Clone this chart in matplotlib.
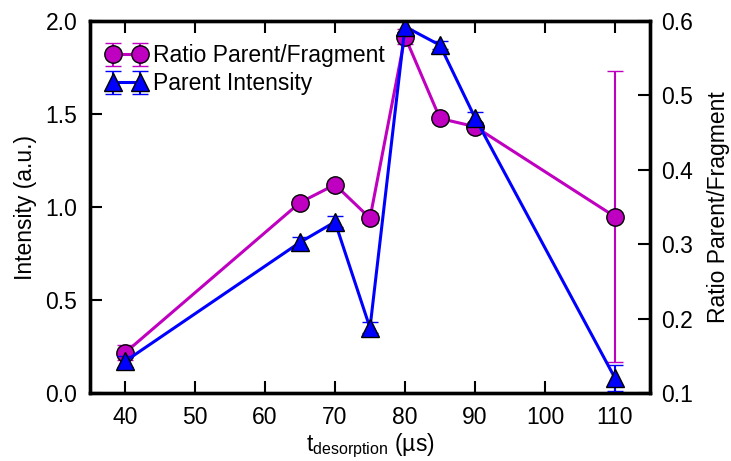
import matplotlib
matplotlib.use("Agg")
import matplotlib.pyplot as plt

plt.rcParams['font.family'] = ['Liberation Sans', 'DejaVu Sans']
plt.rcParams['mathtext.fontset'] = 'custom'
plt.rcParams['mathtext.rm'] = 'Liberation Sans'

t_desorption = [40, 65, 70, 75, 80, 85, 90, 110]
intensity = [0.17, 0.81, 0.92, 0.35, 1.97, 1.87, 1.48, 0.08]
intensity_err = [0.03, 0.03, 0.03, 0.03, 0.03, 0.02, 0.03, 0.07]
ratio = [0.154, 0.356, 0.380, 0.335, 0.579, 0.469, 0.458, 0.337]
ratio_err = [0.010, 0.005, 0.005, 0.007, 0.010, 0.005, 0.005, 0.196]

xticks = [40, 50, 60, 70, 80, 90, 100, 110]
yticks_left = [0.0, 0.5, 1.0, 1.5, 2.0]
yticks_right = [0.1, 0.2, 0.3, 0.4, 0.5, 0.6]

magenta = '#C000C0'
blue = '#0000FF'
FS = 16.5

fig = plt.figure(figsize=(7.31, 4.61), dpi=100)
ax = fig.add_axes([90/731, 1-393/461, (650-90)/731, (393-21)/461])
ax2 = ax.twinx()

h2 = ax2.errorbar(t_desorption, ratio, yerr=ratio_err, color=magenta, lw=2.2,
                  marker='o', ms=12.5, mfc=magenta, mec='black', mew=1,
                  capsize=6, capthick=1.5, elinewidth=1.5, ecolor=magenta,
                  label='Ratio Parent/Fragment')
h1 = ax.errorbar(t_desorption, intensity, yerr=intensity_err, color=blue, lw=2.2,
                 marker='^', ms=13, mfc=blue, mec='black', mew=1,
                 capsize=6, capthick=1.5, elinewidth=1.5, ecolor=blue,
                 label='Parent Intensity')
ax.set_zorder(ax2.get_zorder() + 1)
ax.patch.set_visible(False)

ax.set_xlim(35, 115)
ax.set_ylim(0, 2.0)
ax2.set_ylim(0.1, 0.6)
ax.set_xticks(xticks)
ax.set_yticks(yticks_left)
ax.set_yticklabels([f'{v:.1f}' for v in yticks_left])
ax2.set_yticks(yticks_right)
ax2.set_yticklabels([f'{v:.1f}' for v in yticks_right])

for a in (ax, ax2):
    for s in a.spines.values():
        s.set_linewidth(2.4)
ax.tick_params(axis='both', direction='in', length=8.5, width=1.5, labelsize=FS,
               top=True)
ax.tick_params(axis='y', pad=9)
ax.tick_params(axis='x', pad=9)
ax2.tick_params(axis='y', direction='in', length=8.5, width=1.5, labelsize=FS, pad=8)

ax.set_ylabel('Intensity (a.u.)', fontsize=FS, labelpad=6)
ax2.set_ylabel('Ratio Parent/Fragment', fontsize=FS, labelpad=10)
ax.set_xlabel(r'$\mathrm{t_{desorption}}$ (µs)', fontsize=FS, labelpad=2)

leg = ax.legend([h2, h1], ['Ratio Parent/Fragment', 'Parent Intensity'],
                loc='upper left', bbox_to_anchor=(0.0, 0.98), frameon=False,
                fontsize=FS, numpoints=2, handlelength=1.8, handletextpad=0.25,
                labelspacing=0.2, borderaxespad=0.3)

fig.savefig('out.png', dpi=100)
